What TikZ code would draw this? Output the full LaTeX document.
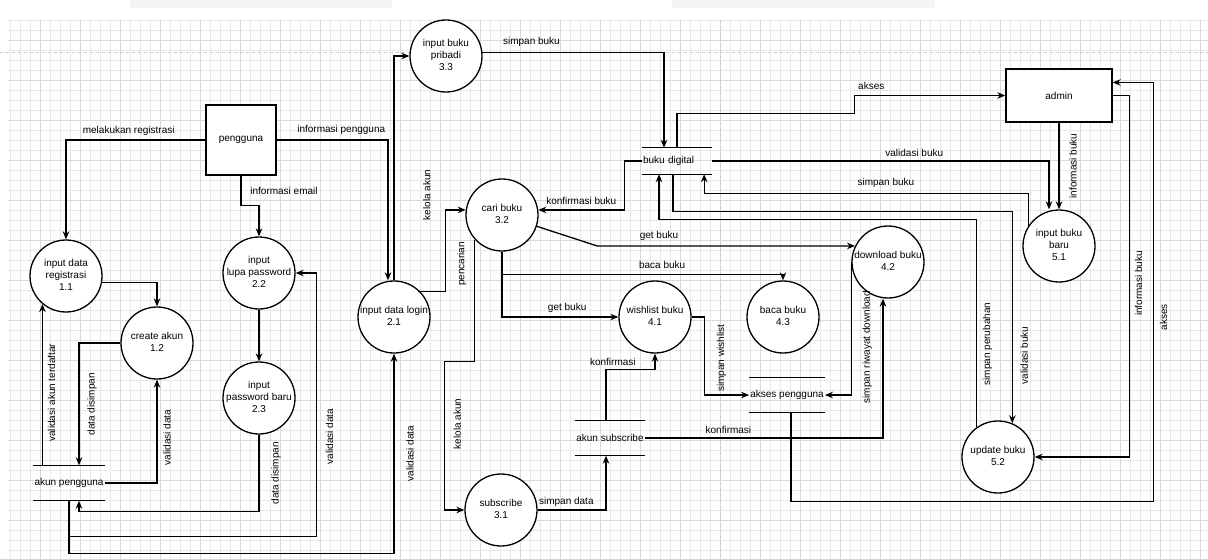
\documentclass[tikz,border=0pt]{standalone}
\usepackage{fontspec}
\setmainfont{Liberation Sans}
\usetikzlibrary{arrows.meta}
\newcommand{\isi}[1]{\makebox[0pt]{\begin{tabular}{@{}c@{}}#1\end{tabular}}}

\begin{document}
\begin{tikzpicture}[x=1pt, y=-1pt,
  font=\fontsize{10}{12}\selectfont,
  proses/.style={circle, draw, fill=white, line width=1.3pt, minimum size=72pt, inner sep=0pt},
  entitas/.style={rectangle, draw, fill=white, line width=1.3pt},
  simpan/.style={minimum width=70pt, minimum height=35pt, inner sep=1pt},
  alir/.style={line width=1.3pt, -{Stealth[length=8pt,width=6.5pt]}},
  ket/.style={inner sep=0pt}]

  % latar
  \useasboundingbox (0,0) rectangle (1208,559);
  \fill[white] (0,0) rectangle (1208,559);
  \fill[gray!8] (130,0) rectangle (392,8);
  \fill[gray!8] (672,0) rectangle (935,8);
  \draw[gray!18, line width=0.5pt, step=10pt] (8,559) grid (1208,20);
  \draw[gray!30, line width=0.5pt, step=40pt] (8,559) grid (1208,20);
  \draw[gray!40, dashed, line width=0.6pt] (0,52) -- (1208,52);
  \draw[gray!40, dashed, line width=0.6pt] (720,20) -- (720,559);

  % entitas
  \node[entitas, minimum width=70pt, minimum height=70pt] (pengguna) at (241,140) {pengguna};
  \node[entitas, minimum width=106pt, minimum height=53pt] (admin) at (1059,95.5) {admin};

  % proses
  \node[proses] (reg) at (66,276) {\isi{input data\\registrasi\\1.1}};
  \node[proses] (akun) at (157,343) {\isi{create akun\\1.2}};
  \node[proses] (lupa) at (259,273) {\isi{input\\lupa password\\2.2}};
  \node[proses] (pwbaru) at (259,398) {\isi{input\\password baru\\2.3}};
  \node[proses] (login) at (394,317) {\isi{input data login\\2.1}};
  \node[proses] (pribadi) at (446,56) {\isi{input buku\\pribadi\\3.3}};
  \node[proses] (cari) at (502,215) {\isi{cari buku\\3.2}};
  \node[proses] (subs) at (501,510) {\isi{subscribe\\3.1}};
  \node[proses] (wish) at (655,317) {\isi{wishlist buku\\4.1}};
  \node[proses] (baca) at (783,317) {\isi{baca buku\\4.3}};
  \node[proses] (unduh) at (888,262) {\isi{download buku\\4.2}};
  \node[proses] (bukubaru) at (1059,246) {\isi{input buku\\baru\\5.1}};
  \node[proses] (update) at (998,457) {\isi{update buku\\5.2}};

  % data store
  \node[simpan] (sakun) at (69,483) {akun pengguna};
  \node[simpan] (ssubs) at (610,438) {akun subscribe};
  \node[simpan] (sakses) at (787,395) {akses pengguna};
  \node[simpan, minimum height=26pt, text width=68pt, align=left] (sbuku) at (677,161) {buku digital};
  \foreach \s in {sakun,ssubs,sakses,sbuku}
    \draw[line width=1.3pt] (\s.north west) -- (\s.north east) (\s.south west) -- (\s.south east);

  % aliran pengguna
  \draw[alir] (pengguna.west) -| node[ket, pos=0.275, yshift=9pt]{melakukan registrasi} (reg.north);
  \draw[alir] (pengguna.east) -| node[ket, pos=0.29, yshift=10pt]{informasi pengguna} ([xshift=-6pt]login.north);
  \draw[alir] (pengguna.south) -- node[ket, xshift=43pt]{informasi email} ++(0,30) -| (lupa.north);

  % registrasi
  \draw[alir] (reg.-10) -| (akun.north);
  \draw[alir] (reg.230 |- sakun.north) -- node[ket, pos=0.45, xshift=9pt, rotate=90]{validasi akun terdaftar} (reg.230);
  \draw[alir] (akun.west) -| node[ket, pos=0.75, xshift=13pt, rotate=90]{data disimpan} ([xshift=10pt]sakun.north);
  \draw[alir] (sakun.east) -| node[ket, pos=0.72, xshift=10pt, rotate=90]{validasi data} (akun.south);

  % lupa password
  \draw[alir] (lupa.south) -- (pwbaru.north);
  \draw[alir] (pwbaru.south) -- node[ket, xshift=17pt, rotate=90]{data disimpan} ++(0,77) -| ([xshift=10pt]sakun.south);
  \draw[alir] (sakun.south) -- ++(0,36) -| node[ket, pos=0.69, xshift=13pt, rotate=90]{validasi data} ([xshift=21pt]lupa.east) -- (lupa.east);
  \draw[alir] (sakun.south) -- ++(0,53) -| node[ket, pos=0.75, xshift=16pt, rotate=90]{validasi data} (login.south);

  % login
  \draw[alir] (login.north) |- (pribadi.west);
  \draw[alir] (login.44) -| node[ket, pos=1, xshift=-19pt, yshift=15pt, rotate=90]{kelola akun} ([xshift=-20pt]cari.172) -- (cari.172);

  % cari buku
  \draw[alir] (cari.222) -- node[ket, pos=0.2, xshift=-13pt, rotate=90]{pencarian} ++(0,122) -| node[ket, pos=0.71, xshift=13pt, rotate=90]{kelola akun} ([xshift=-20pt]subs.west) -- (subs.west);
  \draw[alir] (cari.south) |- node[ket, pos=0.78, yshift=9pt]{get buku} (wish.west);
  \draw[alir] (cari.south) -- ++(0,23) -| node[ket, pos=0.285, yshift=10pt]{baca buku} (baca.north);
  \draw[alir] (cari.-18) -- ([xshift=-258pt]unduh.154) -- node[ket, pos=0.24, yshift=10pt]{get buku} (unduh.154);

  % buku digital
  \draw[alir] (sbuku.west) -| ([xshift=86pt]cari.8) -- node[ket, yshift=9pt]{konfirmasi buku} (cari.8);
  \draw[alir] (pribadi.6) -| node[ket, pos=0.135, yshift=10pt]{simpan buku} ([xshift=-13pt]sbuku.north);
  \draw[alir] (sbuku.north) |- ([xshift=-151pt, yshift=-18pt]admin.west) |- node[ket, pos=0.556, yshift=10pt]{akses} (admin.west);
  \draw[alir] (sbuku.east) -| node[ket, pos=0.3, yshift=8pt]{validasi buku} ([xshift=-10pt]bukubaru.north);

  % admin
  \draw[alir] (admin.south) -- node[ket, xshift=14pt, rotate=90]{informasi buku} (bukubaru.north);
  \draw[alir] (bukubaru.146) |- node[ket, pos=0.72, yshift=10pt]{simpan buku} ([xshift=-8pt, yshift=-19pt]sbuku.south east) -- ([xshift=-8pt]sbuku.south east);
  \draw[alir] ([xshift=-4pt]sbuku.south) -- ++(0,37) -| node[ket, pos=0.84, xshift=12pt, rotate=90]{validasi buku} (update.67);
  \draw[alir] (update.126) |- node[ket, pos=0.2, xshift=11pt, rotate=90]{simpan perubahan} ([xshift=-18pt, yshift=-45pt]sbuku.south) -- ([xshift=-18pt]sbuku.south);
  \draw[alir] (admin.east) -| node[ket, pos=0.76, xshift=9pt, rotate=90]{informasi buku} ([xshift=95pt]update.east) -- (update.east);
  \draw[alir] ([xshift=4pt]sakses.south) -- ++(0,89) -| node[ket, pos=0.72, xshift=10pt, rotate=90]{akses} ([xshift=41pt, yshift=13pt]admin.east) -- ([yshift=13pt]admin.east);

  % wishlist dan download
  \draw[alir] (wish.east) -- ++(13,0) |- node[ket, pos=0.265, xshift=17pt, rotate=90]{simpan wishlist} (sakses.west);
  \draw[alir] (unduh.west) |- node[ket, pos=0.32, xshift=16pt, rotate=90]{simpan riwayat download} (sakses.east);

  % subscribe
  \draw[alir] (subs.east) -| node[ket, pos=0.21, yshift=8pt]{simpan data} ([xshift=-4pt]ssubs.south);
  \draw[alir] ([xshift=-4pt]ssubs.north) |- node[ket, pos=0.57, yshift=8pt]{konfirmasi} ([yshift=-16pt]wish.south) -- (wish.south);
  \draw[alir] (ssubs.east) -| node[ket, pos=0.175, yshift=8pt]{konfirmasi} ([xshift=-5pt]unduh.south);

\end{tikzpicture}
\end{document}
